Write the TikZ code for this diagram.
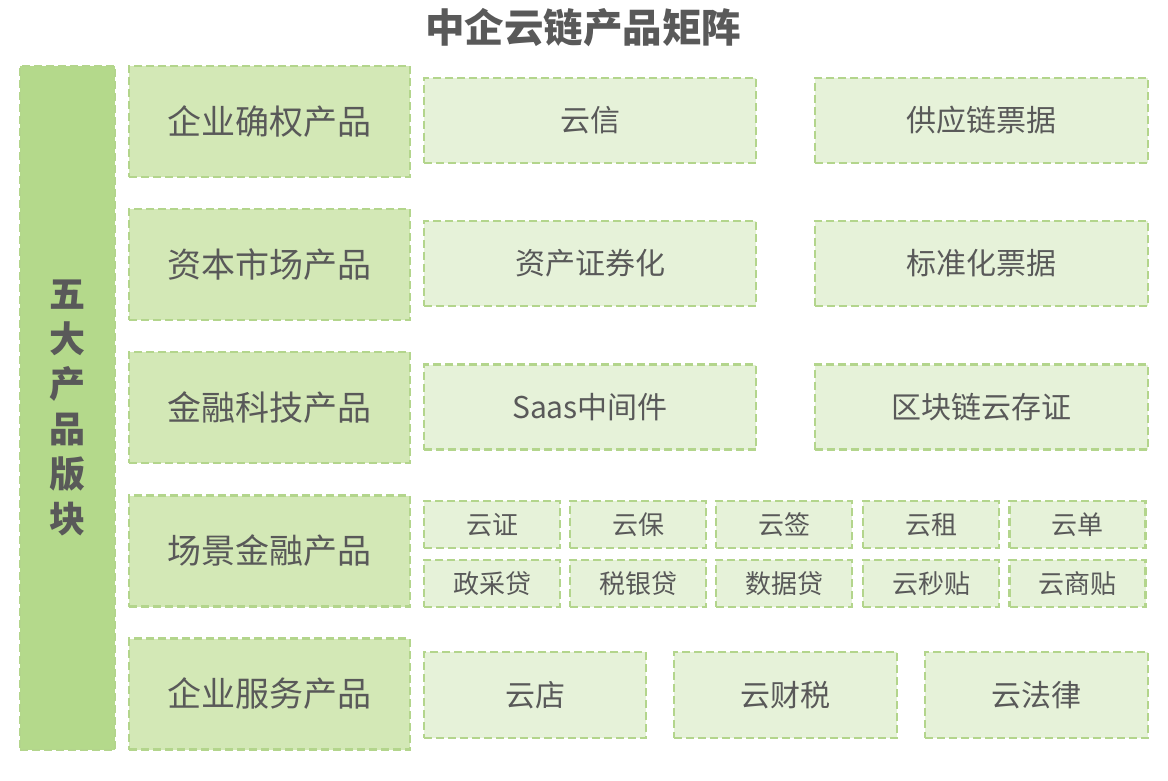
\documentclass[tikz,border=0pt]{standalone}
\usepackage{fontspec}
\setmainfont{Noto Sans CJK SC}
\usetikzlibrary{positioning}

\definecolor{txtgray}{HTML}{595959}
\definecolor{sidegreen}{HTML}{B4D98B}
\definecolor{catgreen}{HTML}{D3E8B6}
\definecolor{itemgreen}{HTML}{E6F2D9}
\definecolor{bordergreen}{HTML}{B3D58C}

\tikzset{
  base/.style={draw=bordergreen, line width=2.4pt, dash pattern=on 8pt off 4pt,
    text=txtgray, inner sep=0pt},
  sidebox/.style={base, fill=sidegreen, align=center,
    font=\fontsize{36}{45}\selectfont\bfseries},
  catbox/.style={base, fill=catgreen, minimum width=281pt, minimum height=111pt,
    font=\fontsize{34}{40}\selectfont},
  itembox/.style={base, fill=itemgreen, minimum height=85pt,
    font=\fontsize{30}{36}\selectfont},
  smallbox/.style={base, fill=itemgreen, minimum width=136pt, minimum height=47pt,
    font=\fontsize{26}{30}\selectfont},
}

\begin{document}
\begin{tikzpicture}[x=1pt,y=-1pt]
\useasboundingbox[fill=white] (0,0) rectangle (1168,781);

\node[text=txtgray, font=\fontsize{39.5}{44}\selectfont\bfseries] (title) at (583,28) {中企云链产品矩阵};

% left column
\node[sidebox, minimum width=95pt, minimum height=684pt] (side) at (67.5,408)
  {五\\大\\产\\品\\版\\块};

% categories
\node[catbox] (cat1) at (269.5,121.5) {企业确权产品};
\node[catbox] (cat2) at (269.5,264.5) {资本市场产品};
\node[catbox] (cat3) at (269.5,407.5) {金融科技产品};
\node[catbox] (cat4) at (269.5,551) {场景金融产品};
\node[catbox] (cat5) at (269.5,694) {企业服务产品};

% two-column rows
\node[itembox, minimum width=332pt] (yunxin) at (590,120.5) {云信};
\node[itembox, minimum width=333pt] (piaoju) at (981.5,120.5) {供应链票据};
\node[itembox, minimum width=332pt] (zczqh) at (590,263.5) {资产证券化};
\node[itembox, minimum width=333pt] (bzhpj) at (981.5,263.5) {标准化票据};
\node[itembox, minimum width=332pt] (saas) at (590,407) {Saas中间件};
\node[itembox, minimum width=333pt] (qkl) at (981.5,407) {区块链云存证};

% scene finance
\foreach \x/\t/\n in {492/云证/a1, 638/云保/a2, 784/云签/a3, 931/云租/a4, 1077.5/云单/a5}
  \node[smallbox] (\n) at (\x,524.5) {\t};
\foreach \x/\t/\n in {492/政采贷/b1, 638/税银贷/b2, 784/数据贷/b3, 931/云秒贴/b4, 1077.5/云商贴/b5}
  \node[smallbox] (\n) at (\x,583.5) {\t};

% services
\node[itembox, minimum width=222pt, minimum height=86pt] (ydian) at (535,695) {云店};
\node[itembox, minimum width=223pt, minimum height=86pt] (ycs) at (785.5,695) {云财税};
\node[itembox, minimum width=223pt, minimum height=86pt] (yfl) at (1036.5,695) {云法律};

\end{tikzpicture}
\end{document}
